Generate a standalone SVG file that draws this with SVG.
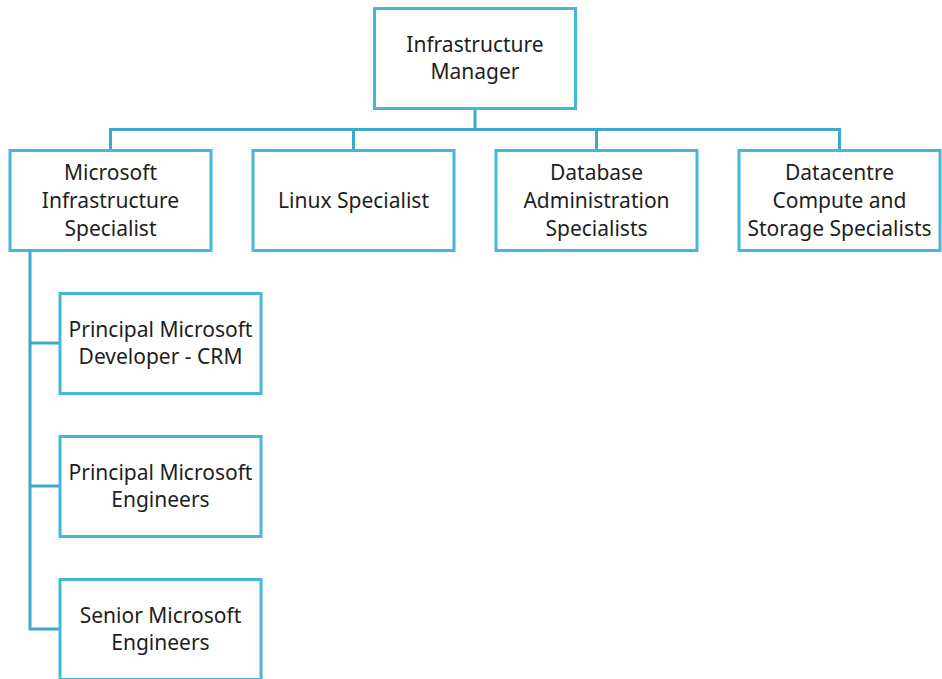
<svg xmlns="http://www.w3.org/2000/svg" width="942" height="679" viewBox="0 0 942 679">
<style>
.box{fill:#ffffff;stroke:#45b7da;stroke-width:3}
.lbl{font-family:"Noto Sans","Open Sans",sans-serif;font-size:21px;fill:#1e1e1e;text-anchor:middle}
.conn{fill:none;stroke:#3aa9cc;stroke-width:3}
</style>
<rect width="942" height="679" fill="#ffffff"/>
<g id="connectors">
<path class="conn" d="M475,108 V129.5 M110.5,150 V129.5 H839.5 V150 M353.5,129.5 V150 M596.5,129.5 V150"/>
<path class="conn" d="M30,250 V629 H60 M30,343 H60 M30,486 H60"/>
</g>
<g id="n-manager">
<rect class="box" x="374.5" y="8.5" width="201" height="100"/>
<text class="lbl" x="475" y="52">Infrastructure</text>
<text class="lbl" x="475" y="79">Manager</text>
</g>
<g id="n-microsoft">
<rect class="box" x="10" y="150.5" width="201" height="100"/>
<text class="lbl" x="110.5" y="180">Microsoft</text>
<text class="lbl" x="110.5" y="208">Infrastructure</text>
<text class="lbl" x="110.5" y="236">Specialist</text>
</g>
<g id="n-linux">
<rect class="box" x="253" y="150.5" width="201" height="100"/>
<text class="lbl" x="353.5" y="208">Linux Specialist</text>
</g>
<g id="n-database">
<rect class="box" x="496" y="150.5" width="201" height="100"/>
<text class="lbl" x="596.5" y="180">Database</text>
<text class="lbl" x="596.5" y="208">Administration</text>
<text class="lbl" x="596.5" y="236">Specialists</text>
</g>
<g id="n-datacentre">
<rect class="box" x="739" y="150.5" width="201" height="100"/>
<text class="lbl" x="839.5" y="180">Datacentre</text>
<text class="lbl" x="839.5" y="208">Compute and</text>
<text class="lbl" x="839.5" y="236">Storage Specialists</text>
</g>
<g id="n-crm">
<rect class="box" x="60" y="293.5" width="201" height="100"/>
<text class="lbl" x="160.5" y="337">Principal Microsoft</text>
<text class="lbl" x="160.5" y="364">Developer - CRM</text>
</g>
<g id="n-principal">
<rect class="box" x="60" y="436.5" width="201" height="100"/>
<text class="lbl" x="160.5" y="480">Principal Microsoft</text>
<text class="lbl" x="160.5" y="507">Engineers</text>
</g>
<g id="n-senior">
<rect class="box" x="60" y="579.5" width="201" height="100"/>
<text class="lbl" x="160.5" y="623">Senior Microsoft</text>
<text class="lbl" x="160.5" y="650">Engineers</text>
</g>
</svg>
